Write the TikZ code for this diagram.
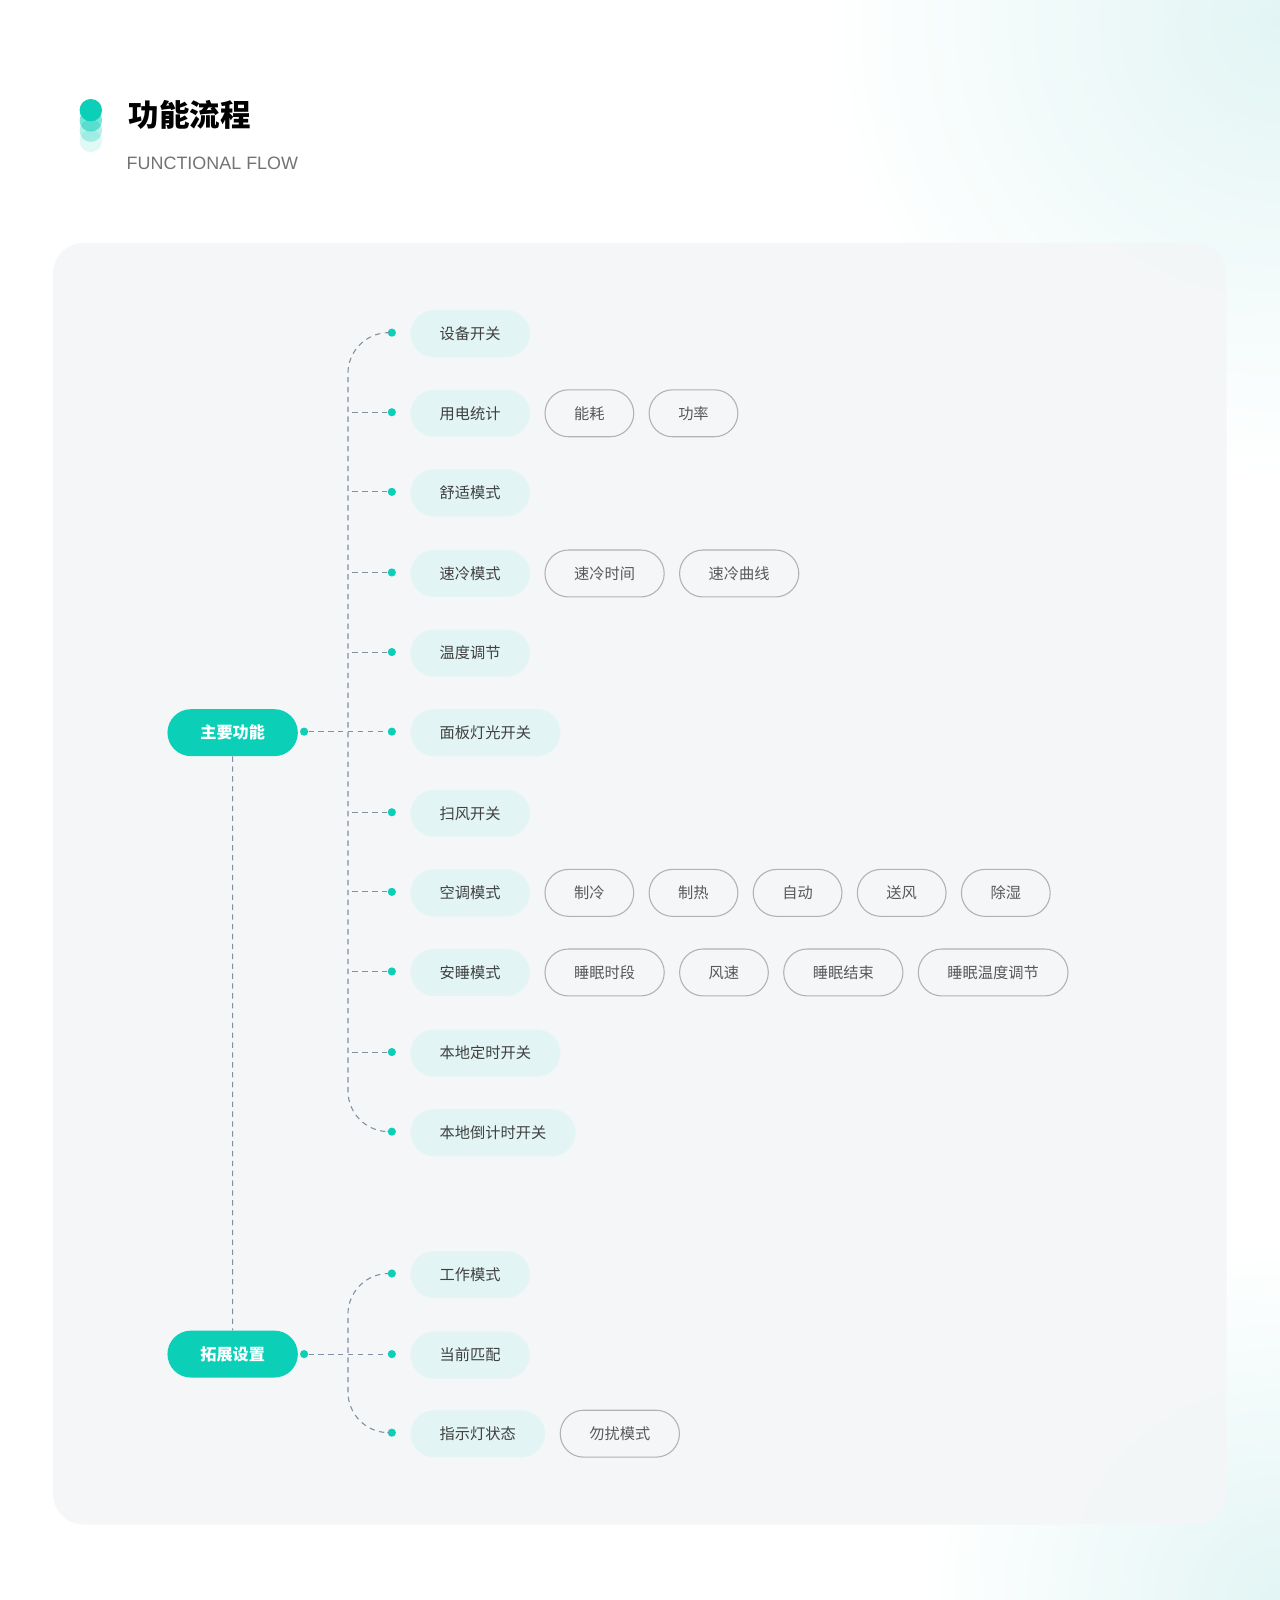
\documentclass[tikz,border=0pt]{standalone}
\usepackage{fontspec}
\setmainfont{Noto Sans CJK SC}
\newfontfamily\latinsans{Liberation Sans}
\usetikzlibrary{positioning, calc, shapes.misc}
\definecolor{teal}{HTML}{0CCFB8}
\definecolor{mint}{HTML}{E2F5F4}
\definecolor{panel}{HTML}{F4F6F7}
\definecolor{linkgray}{HTML}{7F90A2}
\begin{document}
\begin{tikzpicture}[x=0.02cm, y=-0.02cm, font=\fontsize{8.5}{10}\selectfont]
				\tikzset{root/.style={rounded rectangle, fill=teal, text=white, font=\fontsize{9}{10}\selectfont\bfseries, inner xsep=0.62cm, minimum height=0.92cm}}
				\tikzset{leaf/.style={rounded rectangle, fill=mint, text=black!75, minimum height=0.92cm, inner xsep=0.55cm, anchor=west}}
				\tikzset{sub/.style={rounded rectangle, draw=black!30, line width=0.6pt, fill=panel, text=black!65, minimum height=0.92cm, inner xsep=0.55cm, anchor=west}}
				\tikzset{link/.style={draw=linkgray, dash pattern=on 3pt off 2.5pt, line width=0.6pt}}
				\tikzset{dot/.style={circle, fill=teal, inner sep=0pt, minimum size=0.16cm}}

				% background and panel
				\fill[white] (0,0) rectangle (1254,1568);
				\begin{scope}
					\clip (0,0) rectangle (1254,1568);
					\shade[inner color=mint, outer color=white] (1254,20) circle (9cm);
					\shade[inner color=mint, outer color=white] (1254,1568) circle (7cm);
				\end{scope}
				\fill[panel, rounded corners=0.6cm, opacity=0.9] (52,238) rectangle (1202,1494);

				% header
				\foreach \i/\o in {3/0.12, 2/0.3, 1/0.55, 0/1} \fill[teal, opacity=\o] (89,{108+\i*10}) circle (0.22cm);
				\node (title) [anchor=west, font=\fontsize{17}{20}\selectfont\bfseries] at (120,113) {功能流程};
				\node (subtitle) [anchor=west, text=black!55, font=\latinsans\fontsize{10}{12}\selectfont] at (118,160) {FUNCTIONAL FLOW};

				% roots
				\node (main) [root] at (228,718) {主要功能};
				\node (ext) [root] at (228,1327) {拓展设置};
				\draw [link] (main) -- (ext);

				% first group
				\foreach \name/\txt/\y in {a/设备开关/327, b/用电统计/405, c/舒适模式/483, d/速冷模式/562, e/温度调节/640, f/面板灯光开关/718, g/扫风开关/797, h/空调模式/875, i/安睡模式/953, j/本地定时开关/1032, k/本地倒计时开关/1110}{
					\node (\name) [leaf] at (402,\y) {\txt};
					\node (\name dot) [dot] at (384,\y-1) {};
				}
				\draw [link, rounded corners=0.8cm] (adot) -- (341,326) -- (341,1109) -- (kdot);
				\foreach \name in {b,c,d,e,g,h,i,j} \draw [link] (\name dot) -- (\name dot -| 341,0);
				\node (maindot) [dot] at (298,717) {};
				\draw [link] (maindot) -- (fdot);

				% second group
				\foreach \name/\txt/\y in {l/工作模式/1249, m/当前匹配/1328, n/指示灯状态/1405}{
					\node (\name) [leaf] at (402,\y) {\txt};
					\node (\name dot) [dot] at (384,\y-1) {};
				}
				\draw [link, rounded corners=0.8cm] (ldot) -- (341,1248) -- (341,1404) -- (ndot);
				\node (extdot) [dot] at (298,1327) {};
				\draw [link] (extdot) -- (mdot);

				% details
				\node (b1) [sub, right=0.28cm of b] {能耗};
				\node (b2) [sub, right=0.28cm of b1] {功率};
				\node (d1) [sub, right=0.28cm of d] {速冷时间};
				\node (d2) [sub, right=0.28cm of d1] {速冷曲线};
				\node (h1) [sub, right=0.28cm of h] {制冷};
				\node (h2) [sub, right=0.28cm of h1] {制热};
				\node (h3) [sub, right=0.28cm of h2] {自动};
				\node (h4) [sub, right=0.28cm of h3] {送风};
				\node (h5) [sub, right=0.28cm of h4] {除湿};
				\node (i1) [sub, right=0.28cm of i] {睡眠时段};
				\node (i2) [sub, right=0.28cm of i1] {风速};
				\node (i3) [sub, right=0.28cm of i2] {睡眠结束};
				\node (i4) [sub, right=0.28cm of i3] {睡眠温度调节};
				\node (n1) [sub, right=0.28cm of n] {勿扰模式};
\end{tikzpicture}
\end{document}
